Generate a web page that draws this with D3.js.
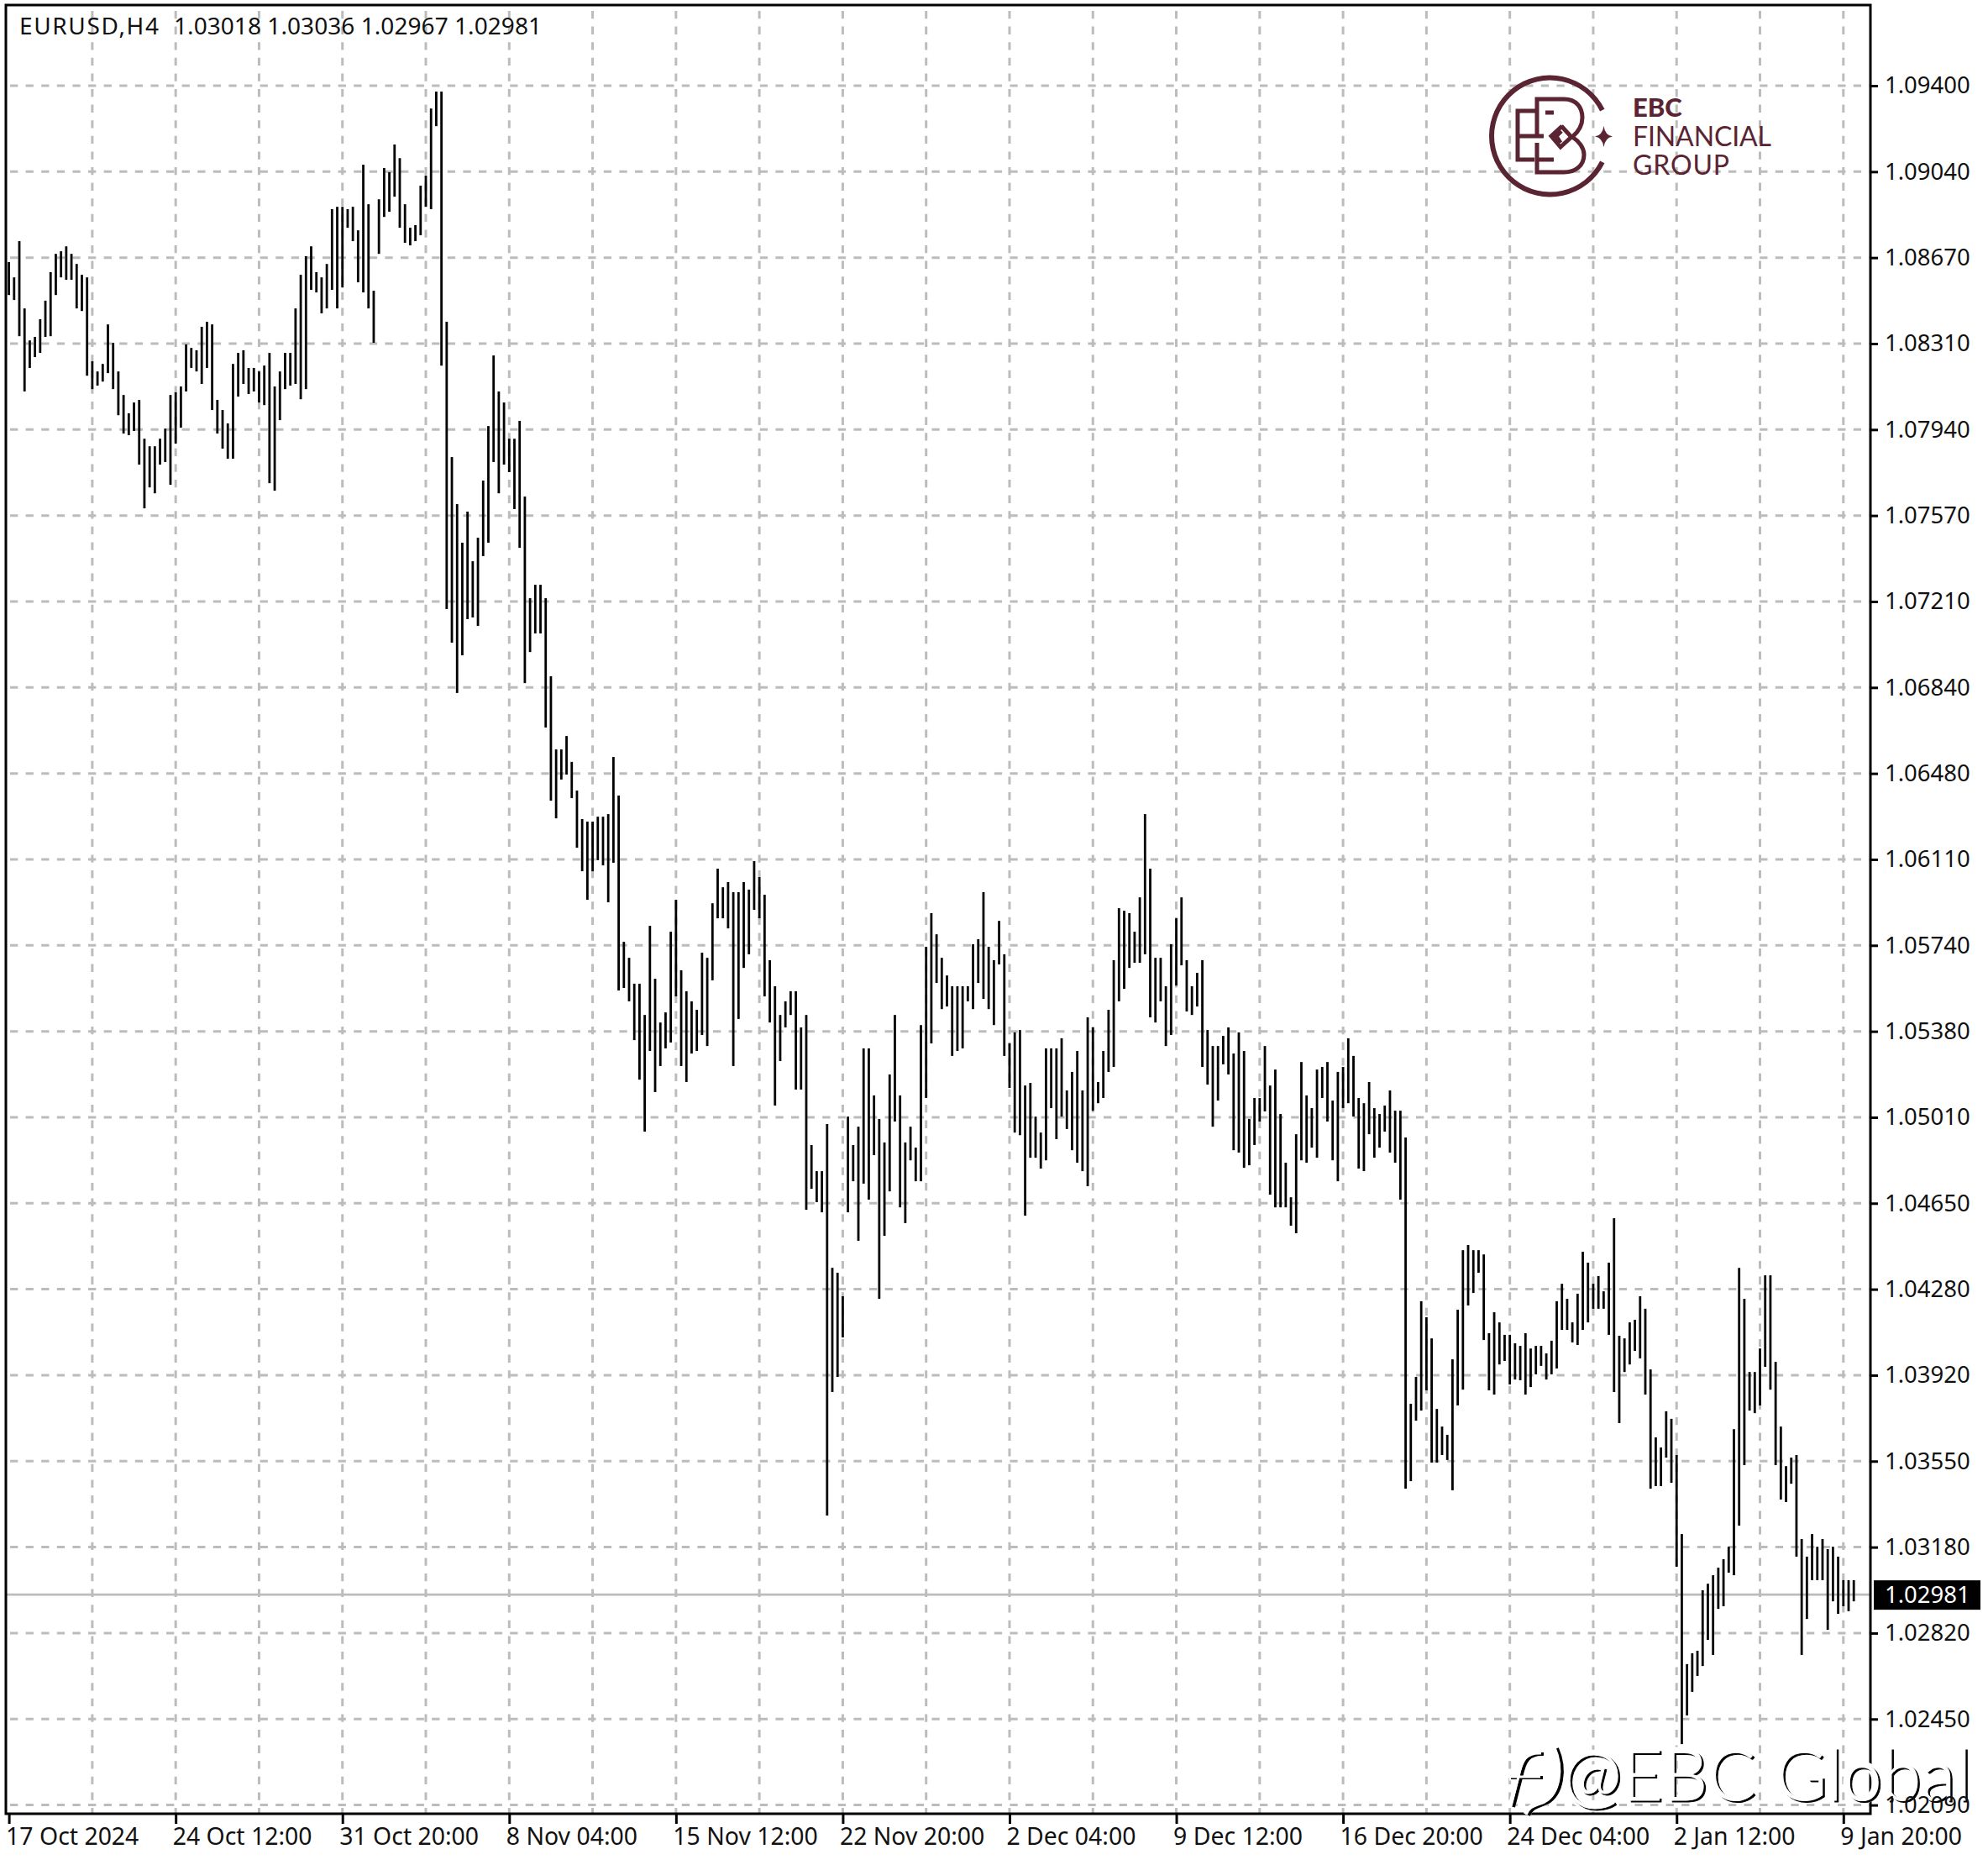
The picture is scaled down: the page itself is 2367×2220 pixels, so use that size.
<!DOCTYPE html>
<html><head><meta charset="utf-8">
<script src="https://cdn.jsdelivr.net/npm/d3@7/dist/d3.min.js"></script>
<style>html,body{margin:0;padding:0;background:#fff}svg{display:block}</style>
</head><body><svg id="c" width="2367" height="2220"></svg>
<script>
const priceLabels=["1.09400","1.09040","1.08670","1.08310","1.07940","1.07570","1.07210","1.06840","1.06480","1.06110","1.05740","1.05380","1.05010","1.04650","1.04280","1.03920","1.03550","1.03180","1.02820","1.02450","1.02090"];
const timeLabels=["17 Oct 2024","24 Oct 12:00","31 Oct 20:00","8 Nov 04:00","15 Nov 12:00","22 Nov 20:00","2 Dec 04:00","9 Dec 12:00","16 Dec 20:00","24 Dec 04:00","2 Jan 12:00","9 Jan 20:00"];
const lastPrice=1.02981;
const titleSymbol="EURUSD,H4";
const titleValues="1.03018 1.03036 1.02967 1.02981";
const highs=[1.08650,1.08585,1.08739,1.08453,1.08317,1.08332,1.08407,1.08486,1.08607,1.08685,1.08696,1.08717,1.08685,1.08642,1.08596,1.08585,1.08228,1.08185,1.08217,1.08385,1.08307,1.08185,1.08085,1.08007,1.08053,1.08064,1.07899,1.07867,1.07867,1.07899,1.07942,1.08085,1.08096,1.08121,1.08300,1.08285,1.08275,1.08375,1.08396,1.08385,1.08064,1.08021,1.07964,1.08217,1.08264,1.08275,1.08200,1.08200,1.08185,1.08210,1.08264,1.08121,1.08185,1.08264,1.08264,1.08453,1.08596,1.08675,1.08717,1.08607,1.08585,1.08642,1.08875,1.08885,1.08885,1.08875,1.08885,1.08785,1.09064,1.08896,1.08528,1.08917,1.09050,1.09032,1.09150,1.09092,1.08896,1.08796,1.08807,1.08975,1.09018,1.09303,1.09375,1.09375,
1.08396,1.07821,1.07621,1.07457,1.07589,1.07378,1.07478,1.07721,1.07953,1.08253,1.08100,1.08053,1.07899,1.07899,1.07975,1.07653,1.07221,1.07278,1.07278,1.07221,1.06889,1.06578,1.06578,1.06635,1.06525,1.06403,1.06282,1.06271,1.06271,1.06292,1.06292,1.06303,1.06546,1.06382,1.05760,1.05692,1.05582,1.05582,1.05449,1.05828,1.05603,1.05417,1.05460,1.05803,1.05939,1.05639,1.05550,1.05507,1.05471,1.05714,1.05692,1.05924,1.06071,1.05992,1.06014,1.05971,1.05971,1.06014,1.05982,1.06103,1.06035,1.05960,1.05682,1.05571,1.05449,1.05507,1.05550,1.05550,1.05396,1.05449,1.04896,1.04785,1.04785,1.04985,1.04374,1.04353,1.04253,1.05017,1.04896,1.04974,1.05307,1.05307,1.05107,1.05007,1.04907,1.05196,1.05449,1.05107,1.04907,1.04974,1.04885,1.05406,
1.05739,1.05882,1.05792,1.05692,1.05617,1.05571,1.05571,1.05571,1.05571,1.05750,1.05771,1.05971,1.05739,1.05682,1.05849,1.05707,1.05328,1.05375,1.05385,1.05149,1.05160,1.05017,1.04949,1.05307,1.05307,1.05307,1.05350,1.05128,1.05207,1.05296,1.05128,1.05439,1.05396,1.05164,1.05296,1.05471,1.05682,1.05903,1.05892,1.05882,1.05803,1.05949,1.06303,1.06071,1.05692,1.05692,1.05571,1.05750,1.05860,1.05949,1.05682,1.05571,1.05628,1.05682,1.05385,1.05317,1.05317,1.05360,1.05396,1.05285,1.05375,1.05296,1.05007,1.05096,1.05096,1.05317,1.05149,1.05217,1.05028,1.04821,1.04674,1.04942,1.05249,1.05107,1.05053,1.05217,1.05228,1.05249,1.05085,1.05207,1.05228,1.05350,1.05275,1.05096,1.05074,1.05164,1.05053,1.05028,1.05064,1.05128,1.05042,1.05042,
1.04928,1.03796,1.03910,1.04232,1.04164,1.04074,1.03774,1.03699,1.03664,1.03985,1.04196,1.04449,1.04471,1.04449,1.04449,1.04431,1.04096,1.04185,1.04142,1.04089,1.04089,1.04053,1.04042,1.04096,1.04031,1.04042,1.04042,1.04010,1.04064,1.04232,1.04306,1.04242,1.04142,1.04264,1.04442,1.04396,1.04306,1.04339,1.04274,1.04396,1.04585,1.04085,1.04074,1.04142,1.04153,1.04253,1.04200,1.03942,1.03653,1.03610,1.03764,1.03732,1.03578,1.03242,1.02689,1.02735,1.02746,1.03003,1.03031,1.03067,1.03099,1.03135,1.03188,1.03688,1.04374,1.04242,1.03931,1.03931,1.04031,1.04342,1.04342,1.03974,1.03699,1.03531,1.03567,1.03578,1.03221,1.03146,1.03242,1.03188,1.03221,1.03178,1.03188,1.03146,1.03046,1.03046,1.03046];
const lows=[1.08510,1.08489,1.08335,1.08100,1.08200,1.08246,1.08264,1.08332,1.08335,1.08510,1.08585,1.08575,1.08575,1.08453,1.08442,1.08167,1.08110,1.08125,1.08142,1.08178,1.08110,1.07999,1.07921,1.07914,1.07932,1.07789,1.07603,1.07692,1.07667,1.07789,1.07800,1.07703,1.07878,1.07946,1.08100,1.08200,1.08185,1.08132,1.08200,1.08021,1.07921,1.07857,1.07814,1.07814,1.08078,1.08132,1.08089,1.08100,1.08053,1.08042,1.07710,1.07678,1.07978,1.08110,1.08125,1.08132,1.08067,1.08110,1.08532,1.08521,1.08432,1.08453,1.08532,1.08453,1.08542,1.08796,1.08739,1.08564,1.08521,1.08453,1.08307,1.08685,1.08842,1.08864,1.08928,1.08796,1.08732,1.08721,1.08739,1.08764,1.08885,1.08875,1.09228,1.08210,
1.07175,1.07032,1.06818,1.06978,1.07132,1.07139,1.07103,1.07400,1.07457,1.07800,1.07667,1.07789,1.07757,1.07600,1.07435,1.06860,1.06992,1.07071,1.07071,1.06671,1.06360,1.06285,1.06450,1.06471,1.06371,1.06160,1.06060,1.05939,1.06060,1.06107,1.06085,1.05928,1.06096,1.05553,1.05564,1.05507,1.05342,1.05174,1.04953,1.05296,1.05121,1.05232,1.05307,1.05332,1.05528,1.05232,1.05164,1.05285,1.05296,1.05364,1.05317,1.05596,1.05860,1.05860,1.05817,1.05232,1.05432,1.05649,1.05707,1.05896,1.05860,1.05528,1.05417,1.05064,1.05253,1.05396,1.05449,1.05132,1.05132,1.04621,1.04710,1.04653,1.04610,1.03321,1.03846,1.03910,1.04078,1.04610,1.04742,1.04489,1.04732,1.04664,1.04853,1.04242,1.04510,1.04699,1.04996,1.04631,1.04564,1.04831,1.04742,1.04742,
1.05096,1.05328,1.05585,1.05474,1.05485,1.05275,1.05296,1.05307,1.05507,1.05474,1.05585,1.05517,1.05474,1.05406,1.05664,1.05275,1.05139,1.04949,1.04938,1.04596,1.04842,1.04842,1.04796,1.04831,1.05053,1.04921,1.05017,1.04964,1.04874,1.04821,1.04785,1.04721,1.05042,1.05074,1.05096,1.05207,1.05228,1.05507,1.05560,1.05649,1.05671,1.05671,1.05707,1.05439,1.05417,1.05507,1.05317,1.05364,1.05574,1.05660,1.05464,1.05449,1.05485,1.05228,1.05153,1.04974,1.05085,1.05239,1.05196,1.04874,1.04864,1.04799,1.04810,1.04896,1.04996,1.05039,1.04685,1.04631,1.04631,1.04631,1.04553,1.04521,1.04831,1.04821,1.04885,1.04842,1.05096,1.04996,1.04831,1.04742,1.05053,1.05074,1.05017,1.04796,1.04785,1.04942,1.04842,1.04885,1.04953,1.04864,1.04821,1.04664,
1.03435,1.03467,1.03724,1.03767,1.03853,1.03546,1.03546,1.03578,1.03557,1.03428,1.03789,1.03856,1.04214,1.04267,1.04353,1.04067,1.03853,1.03835,1.03963,1.03978,1.03878,1.03899,1.03896,1.03835,1.03867,1.03921,1.03957,1.03899,1.03921,1.03946,1.04110,1.04110,1.04057,1.04046,1.04110,1.04142,1.04200,1.04200,1.04200,1.04089,1.03846,1.03714,1.03931,1.03963,1.04021,1.03989,1.03835,1.03435,1.03446,1.03446,1.03567,1.03460,1.03103,1.02349,1.02471,1.02571,1.02639,1.02681,1.02792,1.02728,1.02924,1.02935,1.03078,1.03067,1.03278,1.03535,1.03767,1.03756,1.03789,1.03953,1.03856,1.03535,1.03389,1.03378,1.03456,1.03146,1.02728,1.02881,1.03046,1.03046,1.03046,1.02835,1.02956,1.02903,1.02935,1.02914,1.02956];

const svg=d3.select("#c");
const frame={l:7,t:6,r:2227,b:2159};
const x=d3.scaleLinear().domain([0,354]).range([10.6,2207.2]);
const y=d3.scaleLinear().domain([1.0209,1.094]).range([2148.6,102]);
const yTick=d3.scalePoint().domain(priceLabels).range([102,2148.6]);
const xLabelBar=d3.scalePoint().domain(timeLabels).range([x(0),x(352)]);
const gridBars=d3.range(16,353,16);
const font="'Noto Sans',sans-serif";
const GRID="#bcbcbc";

// grid
const g=svg.append("g").attr("stroke",GRID).attr("stroke-width",3);
g.selectAll("line.h").data(priceLabels).join("line").attr("class","h")
 .attr("x1",12).attr("x2",frame.r).attr("y1",d=>yTick(d)).attr("y2",d=>yTick(d)).attr("stroke-dasharray","9.3 9.3");
g.selectAll("line.v").data(gridBars).join("line").attr("class","v")
 .attr("x1",d=>x(d)).attr("x2",d=>x(d)).attr("y1",13).attr("y2",frame.b).attr("stroke-dasharray","9.3 9.3");

// last price line
const lastY=y(lastPrice)-1;
svg.append("line").attr("x1",frame.l).attr("x2",frame.r).attr("y1",lastY).attr("y2",lastY).attr("stroke",GRID).attr("stroke-width",2.8);

// logo
const LOGO="#5a2433";
const lg=svg.append("g");
lg.append("path").attr("transform","translate(1845.5,162)").attr("fill",LOGO)
 .attr("d",d3.arc().innerRadius(66.5).outerRadius(72.5).startAngle(Math.PI/2+0.46).endAngle(Math.PI*2.5-0.46)());
lg.append("g").attr("fill","none").attr("stroke",LOGO).attr("stroke-width",5).selectAll("path")
 .data(["M1829,132H1807V190H1827","M1809,162H1838","M1830,160V118H1862C1877,118 1884,128 1884,140C1884,150 1878,158 1872,163C1880,168 1886,176 1886,184C1886,197 1876,205 1862,205H1830V170","M1832,190H1850","M1840,134H1850","M1860,150L1847,162L1858,175L1871,163L1859,150M1858,170L1853,162L1859,156"])
 .join("path").attr("d",d=>d);
lg.append("path").attr("fill",LOGO).attr("d","M1909.5,150Q1911,161 1920,162.5Q1911,164 1909.5,175Q1908,164 1899,162.5Q1908,161 1909.5,150Z");
lg.append("text").attr("x",1944).attr("y",139).attr("font-family","Lato,sans-serif").attr("font-weight",900).attr("font-size",31).attr("fill",LOGO).text("EBC");
lg.append("text").attr("x",1944).attr("y",174).attr("font-family","Lato,sans-serif").attr("font-size",32).attr("fill",LOGO).attr("textLength",165).text("FINANCIAL");
lg.append("text").attr("x",1944).attr("y",207.5).attr("font-family","Lato,sans-serif").attr("font-size",32).attr("fill",LOGO).attr("textLength",115).text("GROUP");

// bars
svg.append("g").attr("stroke","#000").attr("stroke-width",2.8).selectAll("line").data(highs).join("line")
 .attr("x1",(d,i)=>x(i)).attr("x2",(d,i)=>x(i)).attr("y1",d=>y(d)).attr("y2",(d,i)=>y(lows[i]));

// frame
svg.append("rect").attr("x",frame.l).attr("y",frame.t).attr("width",frame.r-frame.l).attr("height",frame.b-frame.t).attr("fill","none").attr("stroke","#000").attr("stroke-width",3);

// x axis
const xAxis=d3.axisBottom(xLabelBar).tickSize(12).tickPadding(5);
const xa=svg.append("g").attr("transform",`translate(0,${frame.b})`).call(xAxis);
xa.select(".domain").remove();
xa.selectAll(".tick line").attr("stroke","#000").attr("stroke-width",3);
xa.selectAll(".tick text").attr("font-family",font).attr("font-size",28.4).attr("fill","#111").attr("text-anchor","start").attr("dx",-4);

// last price tag
svg.append("rect").attr("x",2231).attr("y",lastY-17).attr("width",127).attr("height",35).attr("fill","#000");
svg.append("text").attr("x",2244).attr("y",lastY).attr("dy","0.36em").attr("font-family",font).attr("font-size",27.5).attr("fill","#fff").text(lastPrice.toFixed(5));

// title
svg.append("text").attr("x",23).attr("y",31).attr("dy","0.36em").attr("font-family",font).attr("font-size",28).attr("fill","#111").attr("textLength",166).text(titleSymbol);
svg.append("text").attr("x",207).attr("y",31).attr("dy","0.36em").attr("font-family",font).attr("font-size",28).attr("fill","#111").attr("textLength",438).text(titleValues);

// watermark
const wm=svg.append("g");
const wmText=(dx,dy,fill,stroke,sw)=>wm.append("text").attr("x",1861+dx).attr("y",2142.7+dy).attr("font-family","Lato,sans-serif").attr("font-weight",300).attr("font-size",84).attr("textLength",486).attr("fill",fill).attr("stroke",stroke).attr("stroke-width",sw).text("@EBC Global");
const iconPaths=["M1836,2087C1818,2086 1813,2095 1809,2115L1800,2150","M1797,2115H1835","M1852,2080C1863,2105 1858,2135 1840,2145C1828,2150 1822,2150 1818,2160"];
const icon=(dx,dy,stroke,sw)=>wm.append("g").attr("fill","none").attr("stroke",stroke).attr("stroke-width",sw).attr("transform",`translate(${dx},${dy})`).selectAll("path").data(iconPaths).join("path").attr("d",d=>d);
wmText(0,0,"#fff","#fff",7);
icon(0,0,"#fff",9);
wmText(2.5,2,"#000","#000",1);
icon(2,1,"#000",4);
wmText(0,0,"#fff","#fff",1);
icon(-1,0,"#fff",3);

// y axis, painted last so the bottom label stays readable through the watermark
const yAxis=d3.axisRight(yTick).tickSize(9).tickPadding(8);
const ya=svg.append("g").attr("transform",`translate(${frame.r},0)`).call(yAxis);
ya.select(".domain").remove();
ya.selectAll(".tick line").attr("stroke","#000").attr("stroke-width",3);
ya.selectAll(".tick text").attr("font-family",font).attr("font-size",27.5).attr("fill","#111");
</script></body></html>
